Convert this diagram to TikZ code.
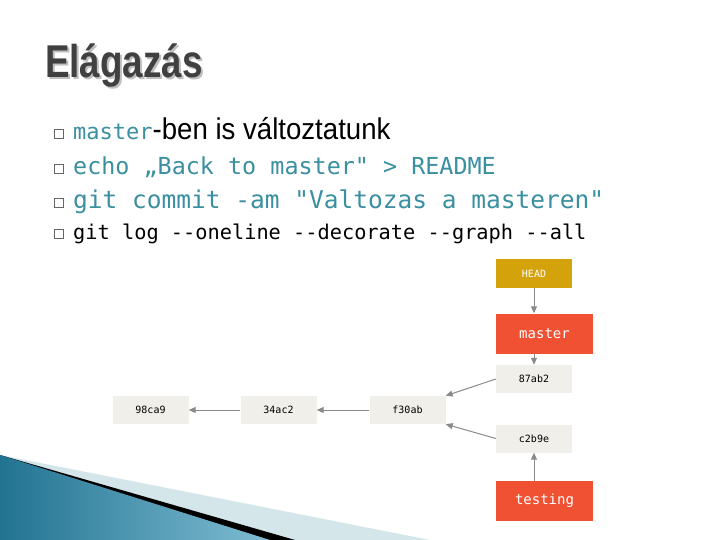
\documentclass[tikz,border=0pt]{standalone}
\usepackage{fontspec}
\setmainfont{Liberation Sans}
\newfontfamily\monof{DejaVu Sans Mono}
\newfontfamily\condf{Liberation Sans}[FakeStretch=0.8]
\newfontfamily\narf{Liberation Sans}[FakeStretch=0.92]
\usetikzlibrary{arrows.meta}
\definecolor{teal}{HTML}{3A8FA0}
\definecolor{boxg}{HTML}{F0EFE9}
\definecolor{headc}{HTML}{D4A20A}
\definecolor{redc}{HTML}{F05133}
\definecolor{arrc}{HTML}{8A8A8A}
\definecolor{decob}{HTML}{2A90B5}
\tikzset{
 commit/.style={fill=boxg,draw=none,minimum width=76pt,minimum height=28pt,inner sep=0pt,font=\monof\fontsize{10}{12}\selectfont},
 branch/.style={fill=redc,draw=none,minimum width=97pt,minimum height=40pt,inner sep=0pt,text=white,font=\monof\fontsize{14}{16}\selectfont},
 arr/.style={draw=arrc,line width=1pt,-{Triangle[length=7pt,width=6pt]}},
 bul/.style={anchor=base west,inner sep=0pt},
}
\begin{document}
\begin{tikzpicture}[x=1pt,y=-1pt]
\useasboundingbox (0,0) rectangle (720,540);
\fill[white] (0,0) rectangle (720,540);
% decoration
\fill[teal!22] (0,455) -- (430,540) -- (0,540) -- cycle;
\fill[black] (0,455) -- (295,540) -- (0,540) -- cycle;
\shade[left color=decob!80!black,right color=decob!60!white] (0,455) -- (270,540) -- (0,540) -- cycle;
% title
\node[anchor=base west,inner sep=0pt,text=black!25] at (47,80) {\bfseries\condf\fontsize{46}{50}\selectfont Elágazás};
\node (title) [anchor=base west,inner sep=0pt,text=black!75] at (45,78) {\bfseries\condf\fontsize{46}{50}\selectfont Elágazás};
% bullets
\foreach \y in {140,175,209,240}{\draw[black!60,line width=0.6pt] (54,\y-11) rectangle (63,\y-2);}
\node (l1) [bul] at (73,140) {{\monof\fontsize{22}{26}\selectfont\color{teal}master}{\narf\fontsize{30}{32}\selectfont -ben is változtatunk}};
\node (l2) [bul,text=teal] at (73,175) {\monof\fontsize{23.4}{26}\selectfont echo „Back to master" > README};
\node (l3) [bul,text=teal] at (73,209) {\monof\fontsize{24.5}{28}\selectfont git commit -am "Valtozas a masteren"};
\node (l4) [bul] at (73,240) {\monof\fontsize{20.3}{24}\selectfont git log --oneline --decorate --graph --all};
% graph
\node (head) [fill=headc,minimum width=76pt,minimum height=29pt,inner sep=0pt,text=white,font=\monof\fontsize{10}{12}\selectfont] at (534,273.5) {HEAD};
\node (master) [branch] at (544.5,333.5) {master};
\node (c87) [commit] at (534,379) {87ab2};
\node (c2b) [commit] at (534,438.5) {c2b9e};
\node (testing) [branch] at (544.5,501) {testing};
\node (f30) [commit] at (407.5,410) {f30ab};
\node (c34) [commit] at (278.5,410) {34ac2};
\node (c98) [commit] at (150.5,410) {98ca9};
\draw[arr] (head.south) -- (head.south|-master.north);
\draw[arr] (master.south-|c87.north) -- (c87.north);
\draw[arr] (c87.west) -- (f30.north east);
\draw[arr] (c2b.west) -- (f30.south east);
\draw[arr] (testing.north-|c2b.south) -- (c2b.south);
\draw[arr] (f30.west) -- (c34.east);
\draw[arr] (c34.west) -- (c98.east);
\end{tikzpicture}
\end{document}
